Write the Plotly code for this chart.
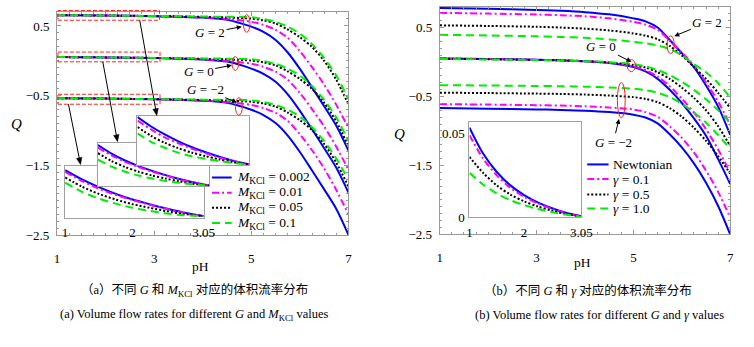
import math
import plotly.graph_objects as go

W, H = 754, 347
SERIF = "Liberation Serif, Times New Roman, DejaVu Serif, serif"
CJK = "Liberation Serif, Times New Roman, Noto Sans CJK SC, serif"

# ---------------- data ----------------
PH = [1, 2, 3, 3.5, 4, 4.5, 5, 5.25, 5.5, 5.75, 6, 6.25, 6.5, 6.75, 7]

# (a) different G and M_KCl
A_G2_M0002 = [0.655, 0.650, 0.640, 0.632, 0.620, 0.590, 0.490, 0.415, 0.300, 0.120, -0.115, -0.380, -0.650, -0.930, -1.285]
A_G2_M001 = [0.655, 0.650, 0.641, 0.634, 0.624, 0.600, 0.560, 0.515, 0.445, 0.330, 0.140, -0.090, -0.340, -0.630, -0.960]
A_G2_M005 = [0.655, 0.650, 0.642, 0.637, 0.630, 0.622, 0.605, 0.580, 0.535, 0.450, 0.340, 0.200, 0.000, -0.270, -0.625]
A_G2_M01 = [0.655, 0.650, 0.643, 0.639, 0.635, 0.632, 0.625, 0.600, 0.560, 0.490, 0.390, 0.240, 0.040, -0.210, -0.550]

A_G0_M0002 = [0.055, 0.050, 0.040, 0.032, 0.020, -0.010, -0.110, -0.185, -0.300, -0.480, -0.715, -0.980, -1.250, -1.530, -1.885]
A_G0_M001 = [0.055, 0.050, 0.041, 0.034, 0.024, 0.000, -0.040, -0.085, -0.155, -0.270, -0.460, -0.690, -0.940, -1.230, -1.560]
A_G0_M005 = [0.055, 0.050, 0.042, 0.037, 0.030, 0.022, 0.005, -0.020, -0.065, -0.150, -0.260, -0.400, -0.600, -0.870, -1.225]
A_G0_M01 = [0.055, 0.050, 0.043, 0.039, 0.035, 0.032, 0.025, 0.000, -0.040, -0.110, -0.210, -0.360, -0.560, -0.810, -1.150]

A_Gm2_M0002 = [-0.535, -0.540, -0.550, -0.558, -0.570, -0.600, -0.700, -0.775, -0.890, -1.070, -1.305, -1.570, -1.840, -2.120, -2.490]
A_Gm2_M001 = [-0.535, -0.540, -0.549, -0.556, -0.566, -0.590, -0.630, -0.675, -0.745, -0.860, -1.050, -1.280, -1.540, -1.850, -2.200]
A_Gm2_M005 = [-0.535, -0.540, -0.548, -0.553, -0.560, -0.568, -0.585, -0.610, -0.655, -0.740, -0.850, -0.990, -1.190, -1.460, -1.800]
A_Gm2_M01 = [-0.535, -0.540, -0.547, -0.551, -0.555, -0.558, -0.565, -0.590, -0.630, -0.700, -0.800, -0.950, -1.150, -1.400, -1.700]

# insets of (a): zoomed pH 1 - 3.05 (relative scale)
IX = [1, 1.25, 1.5, 1.75, 2, 2.25, 2.5, 2.75, 3.05]
INA_M0002 = [0.92, 0.74, 0.59, 0.46, 0.35, 0.26, 0.175, 0.10, 0.03]
INA_M001 = [0.885, 0.71, 0.56, 0.44, 0.34, 0.25, 0.17, 0.095, 0.03]
INA_M005 = [0.78, 0.60, 0.46, 0.35, 0.26, 0.19, 0.125, 0.07, 0.03]
INA_M01 = [0.68, 0.50, 0.37, 0.27, 0.19, 0.13, 0.08, 0.045, 0.03]

INB_M0002 = [0.96, 0.76, 0.60, 0.47, 0.36, 0.26, 0.17, 0.095, 0.02]
INB_M001 = [0.90, 0.72, 0.57, 0.45, 0.34, 0.25, 0.16, 0.09, 0.02]
INB_M005 = [0.77, 0.59, 0.45, 0.34, 0.25, 0.18, 0.115, 0.06, 0.02]
INB_M01 = [0.62, 0.46, 0.34, 0.25, 0.18, 0.125, 0.08, 0.045, 0.02]

INC_M0002 = [0.97, 0.78, 0.62, 0.48, 0.36, 0.26, 0.17, 0.09, 0.015]
INC_M001 = [0.90, 0.72, 0.56, 0.44, 0.33, 0.24, 0.155, 0.085, 0.015]
INC_M005 = [0.77, 0.59, 0.45, 0.34, 0.25, 0.18, 0.115, 0.06, 0.015]
INC_M01 = [0.64, 0.47, 0.35, 0.25, 0.18, 0.125, 0.08, 0.045, 0.015]

# (b) different G and gamma
B_G2_N = [0.784, 0.771, 0.755, 0.742, 0.723, 0.691, 0.633, 0.590, 0.500, 0.319, 0.128, -0.074, -0.340, -0.647, -1.058]
B_G2_g01 = [0.712, 0.702, 0.689, 0.678, 0.663, 0.633, 0.583, 0.542, 0.468, 0.309, 0.139, -0.052, -0.297, -0.573, -0.916]
B_G2_g05 = [0.532, 0.523, 0.511, 0.500, 0.484, 0.458, 0.415, 0.383, 0.330, 0.234, 0.096, -0.074, -0.244, -0.446, -0.668]
B_G2_g10 = [0.394, 0.385, 0.373, 0.364, 0.351, 0.328, 0.293, 0.272, 0.240, 0.187, 0.096, -0.031, -0.148, -0.308, -0.516]

B_G0_N = [0.051, 0.043, 0.033, 0.024, 0.011, -0.015, -0.074, -0.137, -0.244, -0.403, -0.594, -0.816, -1.069, -1.407, -1.768]
B_G0_g01 = [0.051, 0.043, 0.033, 0.025, 0.013, -0.012, -0.063, -0.116, -0.212, -0.350, -0.531, -0.731, -0.974, -1.269, -1.607]
B_G0_g05 = [0.049, 0.041, 0.030, 0.024, 0.013, -0.008, -0.042, -0.079, -0.148, -0.244, -0.371, -0.520, -0.699, -0.932, -1.217]
B_G0_g10 = [0.043, 0.037, 0.028, 0.022, 0.013, -0.002, -0.031, -0.063, -0.116, -0.190, -0.286, -0.403, -0.541, -0.700, -0.879]

B_Gm2_N = [-0.668, -0.676, -0.687, -0.694, -0.705, -0.726, -0.763, -0.805, -0.889, -1.048, -1.238, -1.470, -1.750, -2.087, -2.500]
B_Gm2_g01 = [-0.610, -0.617, -0.626, -0.632, -0.641, -0.659, -0.689, -0.726, -0.794, -0.932, -1.100, -1.311, -1.575, -1.883, -2.255]
B_Gm2_g05 = [-0.445, -0.450, -0.458, -0.463, -0.472, -0.486, -0.509, -0.535, -0.583, -0.668, -0.794, -0.953, -1.143, -1.364, -1.618]
B_Gm2_g10 = [-0.336, -0.340, -0.347, -0.351, -0.357, -0.368, -0.387, -0.408, -0.445, -0.509, -0.604, -0.731, -0.879, -1.058, -1.259]

# inset of (b)
INR_N = [0.0535, 0.038, 0.027, 0.019, 0.0132, 0.0088, 0.0055, 0.0028, 0.0005]
INR_g01 = [0.049, 0.035, 0.025, 0.0175, 0.0122, 0.0082, 0.0051, 0.0026, 0.0005]
INR_g05 = [0.036, 0.0265, 0.019, 0.0135, 0.0095, 0.0064, 0.0040, 0.0020, 0.0004]
INR_g10 = [0.0265, 0.0195, 0.0142, 0.0102, 0.0072, 0.0049, 0.0031, 0.0016, 0.0003]

LEG_A = ["<i>M</i><sub>KCl</sub> = 0.002", "<i>M</i><sub>KCl</sub> = 0.01",
         "<i>M</i><sub>KCl</sub> = 0.05", "<i>M</i><sub>KCl</sub> = 0.1"]
LEG_B = ["Newtonian", "<i>γ</i> = 0.1", "<i>γ</i> = 0.5", "<i>γ</i> = 1.0"]

# ---------------- styles ----------------
STY = [
    dict(color="#0000ff", width=2, dash="solid"),
    dict(color="#ff00ff", width=2, dash="7px,3px,2px,3px"),
    dict(color="#000000", width=2, dash="2px,2px"),
    dict(color="#00ee00", width=2, dash="8px,5px"),
]


def fx(x):
    return x / W


def fy(y):
    return 1 - y / H


fig = go.Figure()


def add_lines(xs, series, xa, ya):
    for s, st in zip(series, STY):
        fig.add_trace(go.Scatter(
            x=xs, y=s, mode="lines", xaxis=xa, yaxis=ya,
            line=dict(color=st["color"], width=st["width"], dash=st["dash"],
                      shape="spline", smoothing=0.8),
            hoverinfo="skip", showlegend=False))


def add_white(xa, ya, xr, yr):
    fig.add_trace(go.Scatter(
        x=[xr[0], xr[1], xr[1], xr[0], xr[0]], y=[yr[0], yr[0], yr[1], yr[1], yr[0]],
        mode="lines", fill="toself", fillcolor="white", line=dict(width=0),
        xaxis=xa, yaxis=ya, hoverinfo="skip", showlegend=False))


for grp in [(A_G2_M0002, A_G2_M001, A_G2_M005, A_G2_M01),
            (A_G0_M0002, A_G0_M001, A_G0_M005, A_G0_M01),
            (A_Gm2_M0002, A_Gm2_M001, A_Gm2_M005, A_Gm2_M01)]:
    add_lines(PH, grp, "x", "y")
for grp in [(B_G2_N, B_G2_g01, B_G2_g05, B_G2_g10),
            (B_G0_N, B_G0_g01, B_G0_g05, B_G0_g10),
            (B_Gm2_N, B_Gm2_g01, B_Gm2_g05, B_Gm2_g10)]:
    add_lines(PH, grp, "x2", "y2")
add_white("x3", "y3", [1, 3.05], [0, 1])
add_lines(IX, (INA_M0002, INA_M001, INA_M005, INA_M01), "x3", "y3")
add_white("x4", "y4", [1, 3.05], [0, 1])
add_lines(IX, (INB_M0002, INB_M001, INB_M005, INB_M01), "x4", "y4")
add_white("x5", "y5", [1, 3.05], [0, 1])
add_lines(IX, (INC_M0002, INC_M001, INC_M005, INC_M01), "x5", "y5")
add_white("x6", "y6", [1, 3.05], [0, 0.0568])
add_lines(IX, (INR_N, INR_g01, INR_g05, INR_g10), "x6", "y6")

FR = "#999999"
TF = dict(family=SERIF, size=13, color="black")


def main_x(dom):
    return dict(domain=dom, range=[1, 7], tickvals=[1, 3, 5, 7], ticks="inside", ticklen=4,
                tickcolor=FR, showline=True, linecolor=FR, linewidth=1, mirror="ticks",
                showgrid=False, zeroline=False, tickfont=TF, ticklabelstandoff=11,
                minor=dict(ticks="inside", ticklen=2, dtick=0.25, tickcolor=FR))


def main_y(dom, rng):
    return dict(domain=dom, range=rng, tickvals=[0.5, -0.5, -1.5, -2.5], ticks="inside", ticklen=4,
                tickcolor=FR, showline=True, linecolor=FR, linewidth=1, mirror="ticks",
                showgrid=False, zeroline=False, tickfont=TF, ticklabelstandoff=4,
                minor=dict(ticks="inside", ticklen=2, dtick=0.1, tickcolor=FR))


def inset_ax(dom, rng, anchor, tickvals=None):
    d = dict(domain=dom, range=rng, anchor=anchor, showline=True, linecolor="#a0a0a0", linewidth=1,
             mirror=True, showgrid=False, zeroline=False, ticks="")
    if tickvals is None:
        d["showticklabels"] = False
    else:
        d.update(tickvals=tickvals, tickfont=TF, ticklabelstandoff=3)
    return d


def xd(a, b):
    return [a / W, b / W]


def yd(top, bot):
    return [1 - bot / H, 1 - top / H]


fig.update_layout(
    width=W, height=H, autosize=False, margin=dict(l=0, r=0, t=0, b=0),
    paper_bgcolor="white", plot_bgcolor="white", showlegend=False,
    font=dict(family=SERIF, size=13, color="black"),
    xaxis=dict(main_x(xd(55, 352)), anchor="y"),
    yaxis=dict(main_y(yd(12.3, 241), [-2.5, 0.7]), anchor="x"),
    xaxis2=dict(main_x(xd(445, 741)), anchor="y2"),
    yaxis2=dict(main_y(yd(7, 240), [-2.5, 0.80]), anchor="x2"),
    xaxis3=inset_ax(xd(63.3, 204.3), [1, 3.05], "y3", [1, 2, 3.05]),
    yaxis3=inset_ax(yd(170, 222.7), [0, 1], "x3"),
    xaxis4=inset_ax(xd(96.7, 210), [1, 3.05], "y4"),
    yaxis4=inset_ax(yd(146.7, 190.7), [0, 1], "x4"),
    xaxis5=inset_ax(xd(137, 251), [1, 3.05], "y5"),
    yaxis5=inset_ax(yd(118.3, 169), [0, 1], "x5"),
    xaxis6=inset_ax(xd(475.3, 589.3), [1, 3.05], "y6", [1, 2, 3.05]),
    yaxis6=inset_ax(yd(125, 222.3), [0, 0.0568], "x6", [0, 0.05]),
)
fig.layout.yaxis6.ticklabelstandoff = 1

shapes = []
anns = []


def ellipse(cx, cy, w, h):
    shapes.append(dict(type="circle", xref="paper", yref="paper",
                       x0=fx(cx - w / 2), x1=fx(cx + w / 2), y0=fy(cy + h / 2), y1=fy(cy - h / 2),
                       line=dict(color="#ff2020", width=1)))


def rect(x0, y0, x1, y1):
    shapes.append(dict(type="rect", xref="paper", yref="paper",
                       x0=fx(x0), x1=fx(x1), y0=fy(y1), y1=fy(y0),
                       line=dict(color="#ff2020", width=1, dash="4px,2px")))


def text(x, y, t, size=13, xanchor="center", family=SERIF):
    anns.append(dict(x=fx(x), y=fy(y), xref="paper", yref="paper", text=t, showarrow=False,
                     xanchor=xanchor, yanchor="middle", font=dict(family=family, size=size, color="black")))


def label_arrow(hx, hy, tx, ty, t):
    anns.append(dict(x=fx(hx), y=fy(hy), xref="paper", yref="paper", ax=tx - hx, ay=ty - hy,
                     axref="pixel", ayref="pixel", text=t, showarrow=True, arrowhead=2,
                     arrowsize=1, arrowwidth=1, arrowcolor="black",
                     font=dict(family=SERIF, size=13, color="black")))


def plain_arrow(tx, ty, hx, hy, hl=7.0, hw=2.8):
    dx, dy = hx - tx, hy - ty
    n = math.hypot(dx, dy)
    ux, uy = dx / n, dy / n
    bx, by = hx - hl * ux, hy - hl * uy
    shapes.append(dict(type="line", xref="paper", yref="paper", x0=fx(tx), y0=fy(ty),
                       x1=fx(bx + 1 * ux), y1=fy(by + 1 * uy), line=dict(color="black", width=1)))
    p1 = (bx - hw * uy, by + hw * ux)
    p2 = (bx + hw * uy, by - hw * ux)
    path = "M {} {} L {} {} L {} {} Z".format(fx(hx), fy(hy), fx(p1[0]), fy(p1[1]), fx(p2[0]), fy(p2[1]))
    shapes.append(dict(type="path", xref="paper", yref="paper", path=path,
                       fillcolor="black", line=dict(color="black", width=0.5)))


# panel (a) decorations
ellipse(248.3, 24, 6.7, 18)
ellipse(236.7, 65, 6.7, 14)
ellipse(240.3, 109, 7, 18)
rect(56, 10.7, 159.5, 20.7)
rect(56, 53.3, 160, 63.3)
rect(56, 96.5, 160, 106.7)
plain_arrow(139.3, 20.7, 156.7, 118.3)
plain_arrow(101.7, 63.3, 116.7, 145.0)
plain_arrow(66.7, 106.7, 79, 168.5)
label_arrow(243.3, 27.3, 211.7, 33.3, "<i>G</i> = 2")
label_arrow(233.3, 66.7, 200, 73.3, "<i>G</i> = 0")
label_arrow(238.3, 105, 206.7, 91.7, "<i>G</i> = −2")

# panel (b) decorations
ellipse(680.3, 45.8, 7.3, 18.3)
ellipse(640.2, 67.2, 8.3, 12.3)
ellipse(630, 102.5, 8, 36.3)
label_arrow(684, 37, 717, 23.3, "<i>G</i> = 2")
label_arrow(640.3, 63.3, 610.3, 48.3, "<i>G</i> = 0")
label_arrow(627.7, 121.7, 622, 145, "<i>G</i> = −2")

# legends
for i, (lab, st) in enumerate(zip(LEG_A, STY)):
    y = [181.7, 197.3, 212.7, 228.3][i]
    shapes.append(dict(type="line", xref="paper", yref="paper", x0=fx(213), x1=fx(233), y0=fy(y), y1=fy(y),
                       line=dict(color=st["color"], width=2, dash=st["dash"])))
    text(236.5, y, lab, size=13.5, xanchor="left")
for i, (lab, st) in enumerate(zip(LEG_B, STY)):
    y = [168.3, 183.3, 199, 213.3][i]
    shapes.append(dict(type="line", xref="paper", yref="paper", x0=fx(595.3), x1=fx(617), y0=fy(y), y1=fy(y),
                       line=dict(color=st["color"], width=2, dash=st["dash"])))
    text(619.5, y, lab, size=13.5, xanchor="left")

# axis titles
text(13.3, 127, "<i>Q</i>", size=15)
text(201.7, 273, "pH", size=13.5)
text(404, 137, "<i>Q</i>", size=15)
text(590.3, 269, "pH", size=13.5)

# captions
text(195, 297, "（a）不同 <i>G</i> 和 <i>M</i><sub>KCl</sub> 对应的体积流率分布", size=12.5, family=CJK)
text(195, 322, "(a) Volume flow rates for different <i>G</i> and <i>M</i><sub>KCl</sub> values", size=12.5)
text(596, 297, "（b）不同 <i>G</i> 和 <i>γ</i> 对应的体积流率分布", size=12.5, family=CJK)
text(608, 322, "(b) Volume flow rates for different <i>G</i> and <i>γ</i> values", size=12.5)

fig.update_layout(shapes=shapes, annotations=anns)
fig.write_html("out.html")
